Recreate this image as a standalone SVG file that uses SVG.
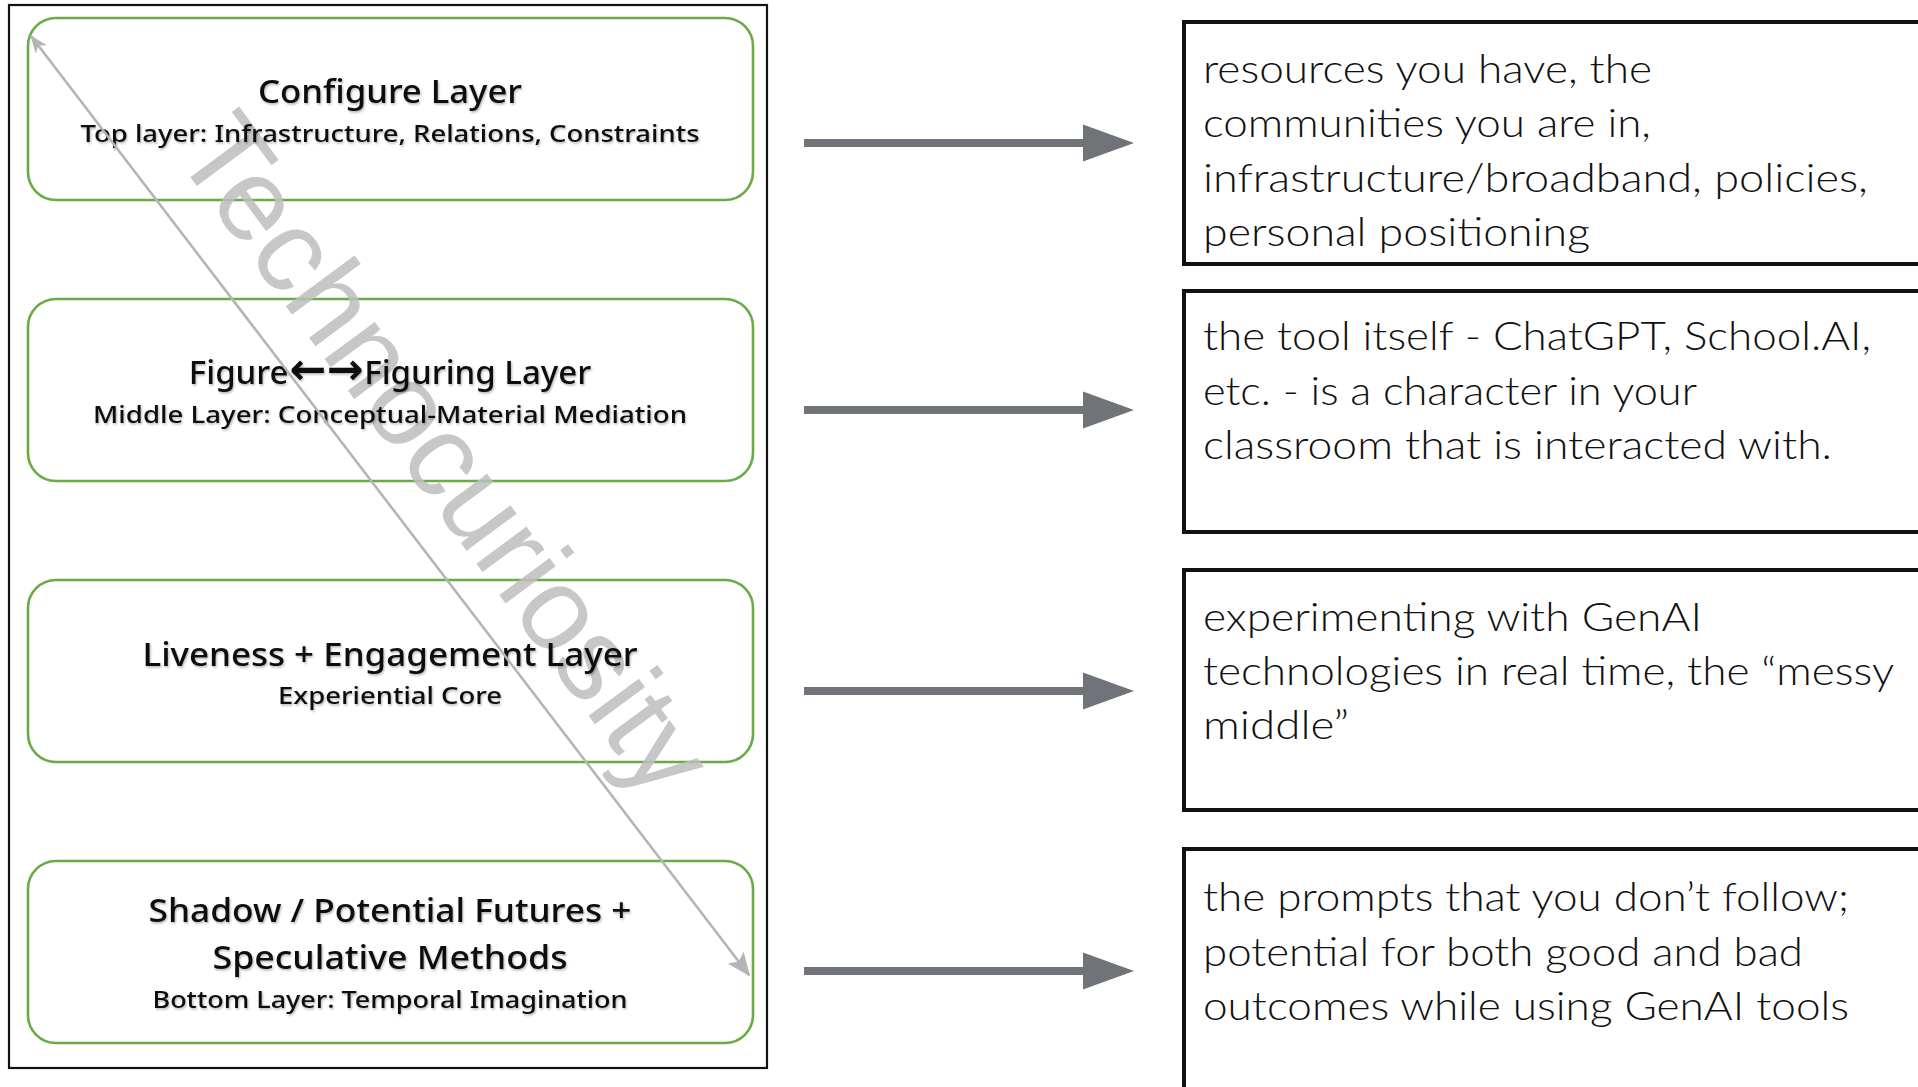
<svg xmlns="http://www.w3.org/2000/svg" width="1918" height="1087" viewBox="0 0 1918 1087">
<defs>
<style>
.frame{fill:#fff;stroke:#111;stroke-width:2.2}
.layer{fill:#fff;stroke:#6aab45;stroke-width:2.6}
.title{font-family:"Noto Sans","Liberation Sans",sans-serif;font-weight:500;font-size:33px;fill:#111;text-anchor:middle}
.sub{font-family:"Noto Sans","Liberation Sans",sans-serif;font-weight:500;font-size:23.5px;fill:#111;text-anchor:middle}
.arr{font-family:"DejaVu Sans",sans-serif;font-weight:bold;font-size:44px}
.desc{fill:#fff;stroke:#111;stroke-width:4}
.dtext{font-family:Lato,"Liberation Sans",sans-serif;font-weight:300;font-size:40px;fill:#111}
.shaft{stroke:#707377;stroke-width:8;fill:none}
.head{fill:#707377}
.diag{stroke:#b5b5b5;stroke-width:2.6;fill:none}
.wm{font-family:"Liberation Sans",Arial,sans-serif;font-size:118px;fill:#bdbdbd;fill-opacity:0.85;text-anchor:middle}
</style>
<filter id="sh" x="-5%" y="-30%" width="110%" height="160%">
<feDropShadow dx="1" dy="1.5" stdDeviation="1" flood-color="#000" flood-opacity="0.3"/>
</filter>
<marker id="endHead" viewBox="0 0 24 20" refX="22" refY="10" markerWidth="24" markerHeight="20" markerUnits="userSpaceOnUse" orient="auto">
<path d="M0,0 L24,10 L0,20 L5,10 Z" fill="#b5b5b5"/>
</marker>
<marker id="startHead" viewBox="0 0 18 14" refX="1" refY="7" markerWidth="18" markerHeight="14" markerUnits="userSpaceOnUse" orient="auto">
<path d="M0,7 L18,0 L13,7 L18,14 Z" fill="#b5b5b5"/>
</marker>
</defs>
<rect width="1918" height="1087" fill="#fff"/>
<g id="frame">
<rect class="frame" x="9" y="5" width="758" height="1063"/>
</g>
<g id="layer-configure">
<rect class="layer" x="28" y="18" width="725" height="182" rx="28" ry="28"/>
</g>
<g id="layer-figure">
<rect class="layer" x="28" y="299" width="725" height="182" rx="28" ry="28"/>
</g>
<g id="layer-liveness">
<rect class="layer" x="28" y="580" width="725" height="182" rx="28" ry="28"/>
</g>
<g id="layer-shadow">
<rect class="layer" x="28" y="861" width="725" height="182" rx="28" ry="28"/>
</g>
<g id="watermark">
<text class="wm" transform="translate(442,457) rotate(53.5)" x="0" y="36" textLength="810" lengthAdjust="spacingAndGlyphs">Technocuriosity</text>
</g>
<g id="layer-texts" filter="url(#sh)">
<text class="title" x="390" y="103" textLength="264" lengthAdjust="spacingAndGlyphs">Configure Layer</text>
<text class="sub" x="390" y="142" textLength="619" lengthAdjust="spacingAndGlyphs">Top layer: Infrastructure, Relations, Constraints</text>
<text class="title" x="390" y="384">Figure<tspan class="arr" dx="1">←→</tspan><tspan dx="1">Figuring Layer</tspan></text>
<text class="sub" x="390" y="423" textLength="594" lengthAdjust="spacingAndGlyphs">Middle Layer: Conceptual-Material Mediation</text>
<text class="title" x="390" y="666" textLength="495" lengthAdjust="spacingAndGlyphs">Liveness + Engagement Layer</text>
<text class="sub" x="390" y="704" textLength="224" lengthAdjust="spacingAndGlyphs">Experiential Core</text>
<text class="title" x="390" y="922" textLength="483" lengthAdjust="spacingAndGlyphs">Shadow / Potential Futures +</text>
<text class="title" x="390" y="969" textLength="355" lengthAdjust="spacingAndGlyphs">Speculative Methods</text>
<text class="sub" x="390" y="1008" textLength="475" lengthAdjust="spacingAndGlyphs">Bottom Layer: Temporal Imagination</text>
</g>
<g id="connectors">
<line class="diag" x1="31" y1="36" x2="749" y2="975" marker-start="url(#startHead)" marker-end="url(#endHead)"/>
<line class="shaft" x1="804" y1="143" x2="1086" y2="143"/>
<polygon class="head" points="1083,124.5 1134,143 1083,161.5"/>
<line class="shaft" x1="804" y1="410" x2="1086" y2="410"/>
<polygon class="head" points="1083,391.5 1134,410 1083,428.5"/>
<line class="shaft" x1="804" y1="691" x2="1086" y2="691"/>
<polygon class="head" points="1083,672.5 1134,691 1083,709.5"/>
<line class="shaft" x1="804" y1="971" x2="1086" y2="971"/>
<polygon class="head" points="1083,952.5 1134,971 1083,989.5"/>
</g>
<g id="desc-configure">
<rect class="desc" x="1184" y="22" width="760" height="242"/>
<text class="dtext" x="1203" y="83" textLength="449" lengthAdjust="spacingAndGlyphs">resources you have, the</text>
<text class="dtext" x="1203" y="137" textLength="448" lengthAdjust="spacingAndGlyphs">communities you are in,</text>
<text class="dtext" x="1203" y="192" textLength="665" lengthAdjust="spacingAndGlyphs">infrastructure/broadband, policies,</text>
<text class="dtext" x="1203" y="246" textLength="387" lengthAdjust="spacingAndGlyphs">personal positioning</text>
</g>
<g id="desc-figure">
<rect class="desc" x="1184" y="291" width="760" height="241"/>
<text class="dtext" x="1203" y="350" textLength="668" lengthAdjust="spacingAndGlyphs">the tool itself - ChatGPT, School.AI,</text>
<text class="dtext" x="1203" y="405" textLength="494" lengthAdjust="spacingAndGlyphs">etc. - is a character in your</text>
<text class="dtext" x="1203" y="459" textLength="629" lengthAdjust="spacingAndGlyphs">classroom that is interacted with.</text>
</g>
<g id="desc-liveness">
<rect class="desc" x="1184" y="570" width="760" height="240"/>
<text class="dtext" x="1203" y="631" textLength="499" lengthAdjust="spacingAndGlyphs">experimenting with GenAI</text>
<text class="dtext" x="1203" y="685" textLength="691" lengthAdjust="spacingAndGlyphs">technologies in real time, the “messy</text>
<text class="dtext" x="1203" y="739" textLength="146" lengthAdjust="spacingAndGlyphs">middle”</text>
</g>
<g id="desc-shadow">
<rect class="desc" x="1184" y="849" width="760" height="260"/>
<text class="dtext" x="1203" y="911" textLength="646" lengthAdjust="spacingAndGlyphs">the prompts that you don’t follow;</text>
<text class="dtext" x="1203" y="966" textLength="600" lengthAdjust="spacingAndGlyphs">potential for both good and bad</text>
<text class="dtext" x="1203" y="1020" textLength="646" lengthAdjust="spacingAndGlyphs">outcomes while using GenAI tools</text>
</g>
</svg>
